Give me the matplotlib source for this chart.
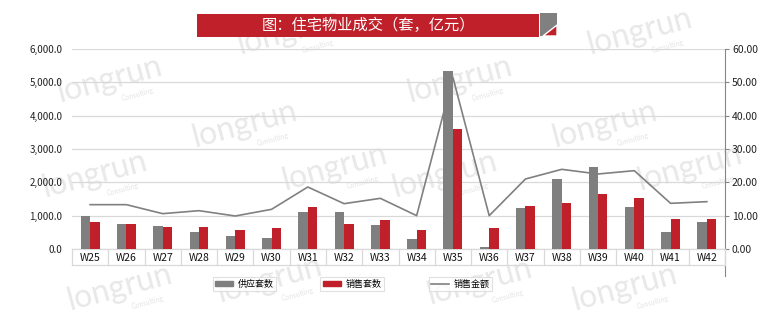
import matplotlib
matplotlib.use("Agg")
import matplotlib.pyplot as plt
import numpy as np
from matplotlib.patches import Rectangle, Polygon
from matplotlib.lines import Line2D
from matplotlib.ticker import FuncFormatter, MultipleLocator

plt.rcParams['font.family'] = ['Noto Sans CJK SC', 'DejaVu Sans']

# data
weeks = ['W25', 'W26', 'W27', 'W28', 'W29', 'W30', 'W31', 'W32', 'W33',
         'W34', 'W35', 'W36', 'W37', 'W38', 'W39', 'W40', 'W41', 'W42']
supply = [990, 750, 690, 510, 390, 330, 1110, 1110, 720,
          290, 5340, 60, 1240, 2100, 2460, 1260, 510, 810]
sales = [810, 750, 660, 660, 570, 630, 1260, 750, 870,
         570, 3600, 630, 1290, 1380, 1650, 1530, 900, 900]
amount = [13.3, 13.3, 10.6, 11.5, 9.9, 11.9, 18.6, 13.6, 15.2,
          10.0, 51.5, 10.0, 21.0, 23.9, 22.5, 23.5, 13.7, 14.2]

title = '图：住宅物业成交（套，亿元）'
legend_labels = ['供应套数', '销售套数', '销售金额']

GRAY = '#7f7f7f'
RED = '#c0202a'
GRID = '#d9d9d9'

W, H = 773, 315
fig = plt.figure(figsize=(W / 100, H / 100), dpi=100, facecolor='white')

# background layer (watermark), pixel coordinates
bg = fig.add_axes([0, 0, 1, 1], zorder=0)
bg.set_xlim(0, W)
bg.set_ylim(H, 0)
bg.axis('off')

marks = [(110, 80), (460, 80), (245, 125), (605, 125), (290, 32), (640, 32),
         (95, 175), (335, 168), (445, 175), (690, 168), (120, 288), (270, 280),
         (480, 282), (625, 288)]
for mx, my in marks:
    bg.text(mx, my, 'longrun', fontsize=23, color='#e8e8e8', rotation=15,
            ha='center', va='center', family='Lato')
    bg.text(mx + 28, my + 14, 'Consulting', fontsize=5, color='#e4e4e4',
            rotation=15, ha='center', va='center', family='Lato')

# title banner on top
top = fig.add_axes([0, 0, 1, 1], zorder=5)
top.set_xlim(0, W)
top.set_ylim(H, 0)
top.axis('off')
top.patch.set_visible(False)
top.add_patch(Rectangle((197, 14), 342, 23, color=RED, lw=0))
top.text(368, 25.5, title, color='white', fontsize=11, ha='center', va='center')
top.add_patch(Rectangle((540, 13), 17, 23, color='#808080', lw=0))
top.add_patch(Polygon([(543, 36), (557, 25), (557, 36)], closed=True,
                      facecolor=RED, edgecolor='white', lw=1))

# axes
rect = [72 / W, 1 - 249 / H, (725 - 72) / W, 200 / H]
ax2 = fig.add_axes(rect, zorder=1)
ax = fig.add_axes(rect, zorder=2, sharex=ax2)
ax.patch.set_visible(False)
ax2.patch.set_visible(False)

x = np.arange(len(weeks))
bw = 0.26
ax.bar(x - bw / 2, supply, width=bw, color=GRAY, zorder=3)
ax.bar(x + bw / 2, sales, width=bw, color=RED, zorder=3)
ax.set_ylim(0, 6000)
ax.yaxis.set_major_locator(MultipleLocator(1000))
ax.yaxis.set_major_formatter(FuncFormatter(lambda v, p: f'{v:,.1f}'))
ax.tick_params(axis='y', length=0, labelsize=7, pad=7, colors='#222222')
for s in ax.spines.values():
    s.set_visible(False)

ax2.plot(x, amount, color='#808080', lw=1.2, zorder=3)
ax2.set_ylim(0, 60)
ax2.yaxis.set_major_locator(MultipleLocator(10))
ax2.yaxis.tick_right()
ax2.yaxis.set_major_formatter(FuncFormatter(lambda v, p: f'{v:.2f}'))
ax2.tick_params(axis='y', length=3, width=0.8, labelsize=7.5, pad=2,
                colors='#868686', labelcolor='#222222')
ax2.yaxis.grid(True, color=GRID, lw=0.9, zorder=0)
ax2.set_axisbelow(True)
for k in ['left', 'top', 'bottom']:
    ax2.spines[k].set_visible(False)
ax2.spines['right'].set_color('#868686')
ax2.spines['right'].set_bounds(-8, 60)

ax2.set_xlim(-0.5, len(weeks) - 0.5)
ax.set_xticks(x)
ax.set_xticklabels(weeks)
ax.tick_params(axis='x', length=0, labelsize=7.5, pad=3, colors='#111111')
ax2.tick_params(axis='x', length=0, labelbottom=False)

# category box under the axis
box_h = 16 / 200 * 6000
for b in np.arange(-0.5, len(weeks), 1.0):
    ax.add_line(Line2D([b, b], [0, -box_h], color=GRID, lw=0.9, clip_on=False))
ax.add_line(Line2D([-0.5, len(weeks) - 0.5], [-box_h, -box_h], color=GRID,
                   lw=0.9, clip_on=False))
ax.add_line(Line2D([-0.5, len(weeks) - 0.5], [0, 0], color=GRID, lw=0.9,
                   clip_on=False, zorder=1))

# legends, one framed box per series
handles = [Rectangle((0, 0), 1, 1, color=GRAY),
           Rectangle((0, 0), 1, 1, color=RED),
           Line2D([], [], color='#808080', lw=1.2)]
centers = [244.5, 352, 460.5]
for h, lab, cx in zip(handles, legend_labels, centers):
    leg = fig.legend([h], [lab], loc='center',
                     bbox_to_anchor=(cx / W, 1 - 284 / H),
                     fontsize=6.5, frameon=True, fancybox=False,
                     handlelength=2.0, handleheight=0.5, handletextpad=0.5,
                     borderpad=0.25, borderaxespad=0)
    leg.get_frame().set_edgecolor(GRID)
    leg.get_frame().set_linewidth(0.8)

fig.savefig('out.png', dpi=100, facecolor='white')
